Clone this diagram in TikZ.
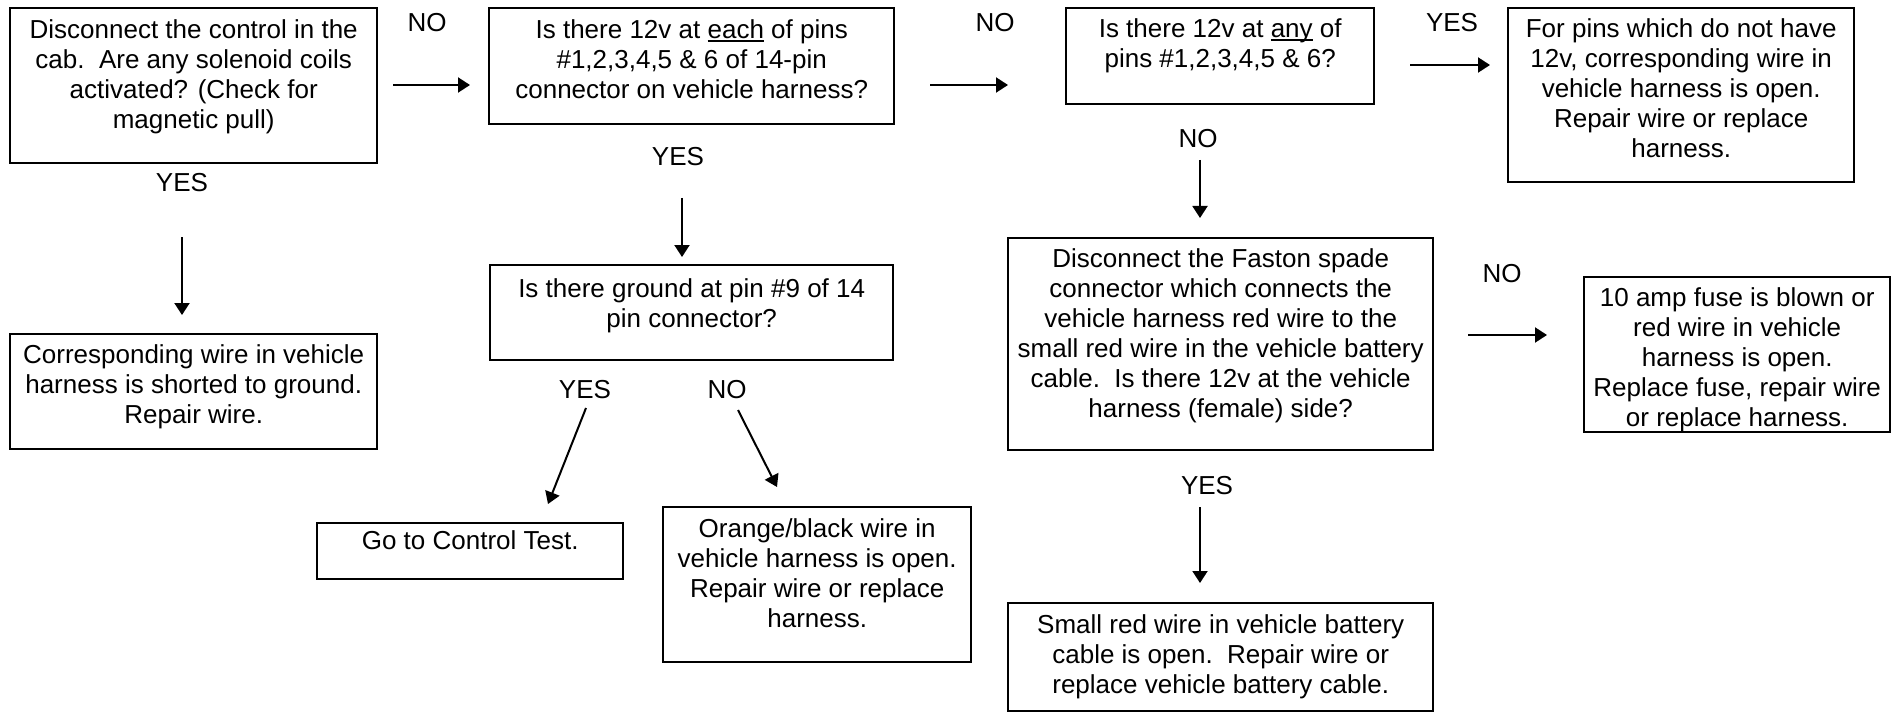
\documentclass[tikz,border=0pt]{standalone}
\usepackage{fontspec}
\setmainfont{Liberation Sans}
\usetikzlibrary{arrows.meta}
\newcommand{\fcbox}[4]{\parbox[c][#2pt][t]{#1pt}{\vspace*{#3pt}\makebox[#1pt]{\begin{tabular}[t]{@{}c@{}}#4\end{tabular}}}}
\newcommand{\ulx}[1]{\setbox0\hbox{#1}\rlap{\rule[-3.5pt]{\wd0}{1.6pt}}\box0\relax}
\tikzset{
  bx/.style={draw, line width=2.4pt, inner sep=0pt, anchor=north west, font=\fontsize{26}{30}\selectfont},
  lbl/.style={inner sep=0pt, anchor=base, font=\fontsize{26}{30}\selectfont},
  arr/.style={line width=2pt, -{Triangle[length=12pt,width=15pt]}}
}
\begin{document}
\begin{tikzpicture}[x=1pt,y=-1pt]
\useasboundingbox (0,0) rectangle (1892,714);
% boxes
\node[bx] (b1) at (9,7) {\fcbox{367}{155}{9}{Disconnect the control in the\\cab.\ \ Are any solenoid coils\\activated? (Check for\\magnetic pull)}};
\node[bx] (b2) at (488,7) {\fcbox{405}{116}{9}{Is there 12v at \ulx{each} of pins\\\#1,2,3,4,5 \& 6 of 14-pin\\connector on vehicle harness?}};
\node[bx] (b3) at (1065,7) {\fcbox{308}{96}{8}{Is there 12v at \ulx{any} of\\pins \#1,2,3,4,5 \& 6?}};
\node[bx] (b4) at (1507,7) {\fcbox{346}{174}{8}{For pins which do not have\\12v, corresponding wire in\\vehicle harness is open.\\Repair wire or replace\\harness.}};
\node[bx] (b5) at (1007,237) {\fcbox{425}{212}{8}{Disconnect the Faston spade\\connector which connects the\\vehicle harness red wire to the\\small red wire in the vehicle battery\\cable.\ \ Is there 12v at the vehicle\\harness (female) side?}};
\node[bx] (b6) at (1583,276) {\fcbox{306}{155}{8}{10 amp fuse is blown or\\red wire in vehicle\\harness is open.\\Replace fuse, repair wire\\or replace harness.}};
\node[bx] (b7) at (1007,602) {\fcbox{425}{108}{9}{Small red wire in vehicle battery\\cable is open.\ \ Repair wire or\\replace vehicle battery cable.}};
\node[bx] (b8) at (9,333) {\fcbox{367}{115}{8}{Corresponding wire in vehicle\\harness is shorted to ground.\\Repair wire.}};
\node[bx] (b9) at (489,264) {\fcbox{403}{95}{11}{Is there ground at pin \#9 of 14\\pin connector?}};
\node[bx] (b10) at (316,522) {\fcbox{306}{56}{5}{Go to Control Test.}};
\node[bx] (b11) at (662,506) {\fcbox{308}{155}{9}{Orange/black wire in\\vehicle harness is open.\\Repair wire or replace\\harness.}};
% labels
\node[lbl] (l1) at (427,32) {NO};
\node[lbl] (l2) at (182,192) {YES};
\node[lbl] (l3) at (678,166) {YES};
\node[lbl] (l4) at (995,32) {NO};
\node[lbl] (l5) at (1198,148) {NO};
\node[lbl] (l6) at (1452,32) {YES};
\node[lbl] (l7) at (1502,282) {NO};
\node[lbl] (l8) at (1207,494) {YES};
\node[lbl] (l9) at (585,398) {YES};
\node[lbl] (l10) at (727,398) {NO};
% arrow ends
\coordinate (a1s) at (393,85);  \coordinate (a1e) at (470,85);
\coordinate (a2s) at (182,237); \coordinate (a2e) at (182,315);
\coordinate (a3s) at (930,85);  \coordinate (a3e) at (1008,85);
\coordinate (a4s) at (682,198); \coordinate (a4e) at (682,257);
\coordinate (a5s) at (1410,65); \coordinate (a5e) at (1490,65);
\coordinate (a6s) at (1200,160); \coordinate (a6e) at (1200,218);
\coordinate (a7s) at (1468,335); \coordinate (a7e) at (1547,335);
\coordinate (a8s) at (1200,507); \coordinate (a8e) at (1200,583);
\coordinate (a9s) at (586,408); \coordinate (a9e) at (548,504);
\coordinate (a10s) at (738,410); \coordinate (a10e) at (777,487);
\foreach \i in {1,...,10} \draw[arr] (a\i s) -- (a\i e);
\end{tikzpicture}
\end{document}
